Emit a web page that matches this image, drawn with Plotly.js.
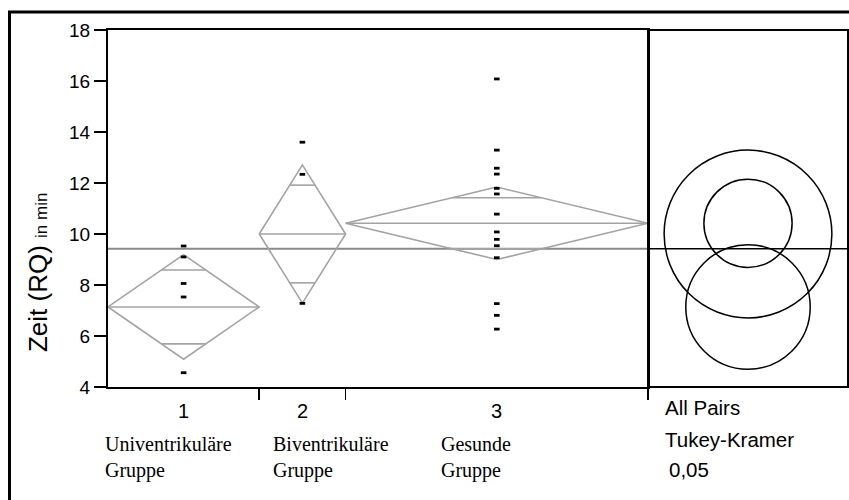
<!DOCTYPE html>
<html>
<head>
<meta charset="utf-8">
<script src="https://cdn.plot.ly/plotly-3.0.1.min.js"></script>
<style>html,body{margin:0;padding:0;background:#fff;}#chart{width:849px;height:500px;}</style>
</head>
<body>
<div id="chart"></div>
<script>
// ---- data ----
const groupLabels = ['1', '2', '3'];
const groupNameLine1 = ['Univentrikuläre', 'Biventrikuläre', 'Gesunde'];
const groupNameLine2 = ['Gruppe', 'Gruppe', 'Gruppe'];
const groupN = [7, 4, 14];                 // sample sizes (set the group widths)
const groupMeans = [7.14, 10.0, 10.42];
const ciHalf = [2.05, 2.71, 1.42];          // 95% CI half width (diamond height)
const grandMean = 9.42;
const circleRadius = [2.44, 3.29, 1.73];    // Tukey-Kramer comparison circles
const pointsG1 = [9.53, 9.10, 8.06, 7.53, 4.56];
const pointsG2 = [13.60, 12.34, 7.28];
const pointsG3 = [16.08, 13.29, 12.58, 12.35, 11.79, 11.57, 10.78, 10.08, 9.79, 9.54, 9.07, 7.27, 6.81, 6.27];
const groupPoints = [pointsG1, pointsG2, pointsG3];
const yTicks = [4, 6, 8, 10, 12, 14, 16, 18];
const compLabels = ['All Pairs', 'Tukey-Kramer', '0,05'];

// ---- derived group geometry ----
const starts = [], ends = [], centers = [];
let acc = 0;
groupN.forEach(n => { starts.push(acc); acc += n; ends.push(acc); centers.push(acc - n / 2); });
const total = acc;

const grey = '#a3a3a3';
const traces = [];
groupMeans.forEach((m, i) => {
  const h = ciHalf[i];
  traces.push({
    x: [starts[i], centers[i], ends[i], centers[i], starts[i]],
    y: [m, m + h, m, m - h, m],
    mode: 'lines', line: {color: grey, width: 1.6}, hoverinfo: 'skip'
  });
  traces.push({
    x: [starts[i], ends[i]], y: [m, m],
    mode: 'lines', line: {color: grey, width: 1.6}, hoverinfo: 'skip'
  });
  const ov = h / Math.SQRT2;
  const hw = (groupN[i] / 2) * (1 - ov / h);
  [m + ov, m - ov].forEach(yv => {
    traces.push({
      x: [centers[i] - hw, centers[i] + hw], y: [yv, yv],
      mode: 'lines', line: {color: grey, width: 1.6}, hoverinfo: 'skip'
    });
  });
});
groupPoints.forEach((pts, i) => {
  traces.push({
    x: pts.map(() => centers[i]), y: pts,
    mode: 'markers', marker: {symbol: 'line-ew', size: 4, color: '#000', line: {color: '#000', width: 2.8}},
    hoverinfo: 'y'
  });
});

const shapes = [];
shapes.push({type: 'line', xref: 'x', yref: 'y', x0: 0, x1: total, y0: grandMean, y1: grandMean,
  line: {color: '#8a8a8a', width: 2}, layer: 'below'});
shapes.push({type: 'rect', xref: 'x2 domain', yref: 'y domain', x0: 0, x1: 1, y0: 0, y1: 1,
  line: {color: '#000', width: 2}});
shapes.push({type: 'line', xref: 'x2 domain', yref: 'y', x0: 0, x1: 1, y0: grandMean, y1: grandMean,
  line: {color: '#000', width: 1.5}});
groupMeans.forEach((m, i) => {
  const r = circleRadius[i];
  shapes.push({type: 'circle', xref: 'x2', yref: 'y', x0: -r, x1: r, y0: m - r, y1: m + r,
    line: {color: '#000', width: 1.5}});
});
shapes.push({type: 'line', xref: 'paper', yref: 'paper', x0: -0.1331, x1: -0.1331, y0: 1.0504, y1: -0.35,
  line: {color: '#000', width: 3}});
shapes.push({type: 'line', xref: 'paper', yref: 'paper', x0: -0.1351, x1: 1.02, y0: 1.0504, y1: 1.0504,
  line: {color: '#000', width: 3}});

const sans = 'Liberation Sans, Arial, sans-serif';
const serif = 'Liberation Serif, Times New Roman, serif';
const annotations = [];
groupLabels.forEach((t, i) => {
  annotations.push({text: t, xref: 'x', yref: 'paper', x: centers[i], y: -0.067, showarrow: false,
    xanchor: 'center', yanchor: 'middle', font: {family: sans, size: 20, color: '#000'}});
});
const nameX = [-0.0072, 0.2199, 0.4473];
groupNameLine1.forEach((t, i) => {
  annotations.push({text: t + '<br>' + groupNameLine2[i], xref: 'paper', yref: 'paper', x: nameX[i], y: -0.198,
    showarrow: false, xanchor: 'left', yanchor: 'middle', align: 'left',
    font: {family: serif, size: 20, color: '#000'}});
});
const compX = [0.7505, 0.7505, 0.7550];
const compY = [-0.0588, -0.1457, -0.2297];
compLabels.forEach((t, i) => {
  annotations.push({text: t, xref: 'paper', yref: 'paper', x: compX[i], y: compY[i], showarrow: false,
    xanchor: 'left', yanchor: 'middle', font: {family: sans, size: 20.5, color: '#000'}});
});
annotations.push({text: 'Zeit (RQ) <span style="font-size:17px">in min</span>', xref: 'paper', yref: 'paper',
  x: -0.0946, y: 0.322, showarrow: false, textangle: -90, xanchor: 'center', yanchor: 'middle',
  font: {family: sans, size: 26, color: '#000'}});

const mainFrac = 540 / 740;
const layout = {
  width: 849, height: 500,
  margin: {l: 108, r: 1, t: 30, b: 113, pad: 0},
  paper_bgcolor: '#fff', plot_bgcolor: '#fff',
  showlegend: false,
  xaxis: {domain: [0, mainFrac], range: [0, total], tickvals: ends, ticktext: ends.map(() => ''),
    ticks: 'outside', ticklen: 11, tickwidth: 1.5, tickcolor: '#000',
    showline: true, linecolor: '#000', linewidth: 2, mirror: true,
    showgrid: false, zeroline: false, fixedrange: true},
  yaxis: {range: [4, 18], tickvals: yTicks, ticks: 'outside', ticklen: 12, tickwidth: 1.5, tickcolor: '#000',
    showline: true, linecolor: '#000', linewidth: 2, mirror: true,
    tickfont: {family: sans, size: 19, color: '#000'},
    showgrid: false, zeroline: false, fixedrange: true},
  xaxis2: {domain: [mainFrac, 1], anchor: 'y', range: [-3.922, 3.922], visible: false, fixedrange: true},
  shapes: shapes,
  annotations: annotations
};

Plotly.newPlot('chart', traces, layout, {displayModeBar: false, staticPlot: true});
</script>
</body>
</html>
